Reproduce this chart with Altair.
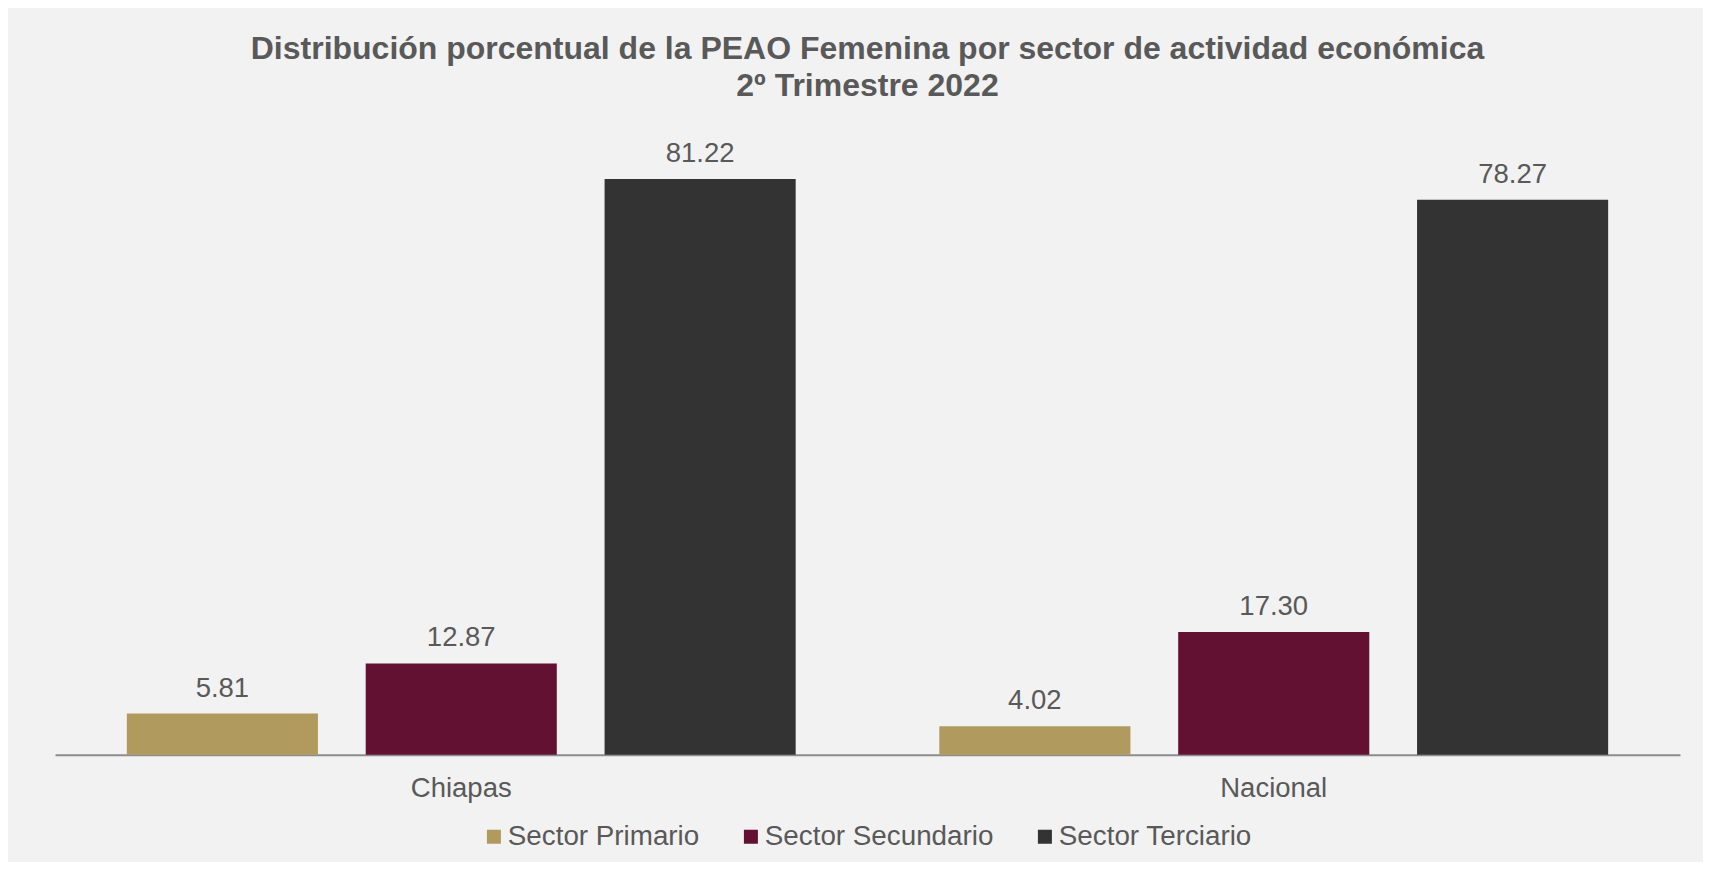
import altair as alt
import pandas as pd

regions = ["Chiapas", "Nacional"]
sectors = ["Sector Primario", "Sector Secundario", "Sector Terciario"]
chiapas_values = [5.81, 12.87, 81.22]
nacional_values = [4.02, 17.30, 78.27]
colors = ["#b19a5e", "#621132", "#333333"]

rows = []
for region, vals in zip(regions, [chiapas_values, nacional_values]):
    for s, v in zip(sectors, vals):
        rows.append({"region": region, "sector": s, "value": v})
df = pd.DataFrame(rows)

FONT = "Liberation Sans"
TXT = "#595959"

x = alt.X("region:N", sort=regions, title=None,
          scale=alt.Scale(paddingInner=0.118, paddingOuter=0.059),
          axis=alt.Axis(labelAngle=0, ticks=False, tickSize=0, labelPadding=20,
                        labelFontSize=27.5, labelFont=FONT, labelColor=TXT,
                        domainColor="#8c8c8c", domainWidth=2, grid=False))
xo = alt.XOffset("sector:N", sort=sectors,
                 scale=alt.Scale(paddingInner=0.2, paddingOuter=0.1))
y = alt.Y("value:Q", scale=alt.Scale(domain=[0, 90]), axis=None)

bars = alt.Chart(df).mark_bar().encode(
    x=x, xOffset=xo, y=y,
    color=alt.Color("sector:N", sort=sectors,
                    scale=alt.Scale(domain=sectors, range=colors),
                    legend=alt.Legend(title=None, orient="none", direction="horizontal",
                                      legendX=425, legendY=706, padding=0,
                                      symbolType="square", symbolSize=196,
                                      symbolStrokeWidth=0, labelOffset=0,
                                      columnPadding=37, labelFontSize=27.8,
                                      labelFont=FONT, labelColor=TXT, labelLimit=400)),
)

labels = alt.Chart(df).mark_text(baseline="alphabetic", dy=-17, fontSize=27.5,
                                 font=FONT, color=TXT).encode(
    x=x, xOffset=xo, y=y,
    text=alt.Text("value:Q", format=".2f"),
)

chart = (bars + labels).properties(
    width=1625, height=638,
    autosize=alt.AutoSizeParams(type="none"),
    padding={"left": 47, "top": 108.7, "right": 23, "bottom": 107},
    background="#f2f2f2",
    title=alt.Title(["Distribución porcentual de la PEAO Femenina por sector de actividad económica",
                     "2º Trimestre 2022"],
                    font=FONT, fontSize=32, fontWeight="bold", color=TXT,
                    anchor="middle", lineHeight=37, offset=14),
).configure_view(stroke=None)

chart.save("out.html", embed_options={"renderer": "svg", "actions": False})
